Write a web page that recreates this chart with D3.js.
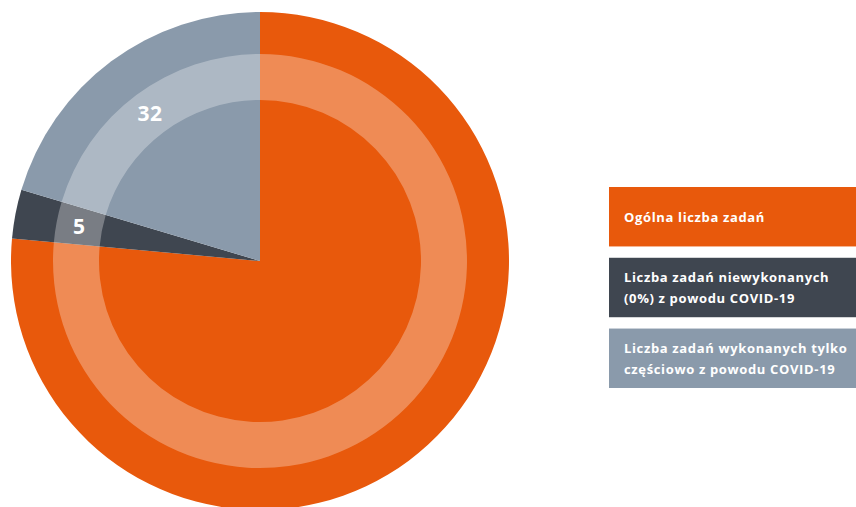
<!DOCTYPE html>
<html>
<head>
<meta charset="utf-8">
<script src="https://cdn.jsdelivr.net/npm/d3@7"></script>
<style>
  body { margin: 0; background: #fff; }
  svg { display: block; font-family: "Open Sans", sans-serif; }
</style>
</head>
<body>
<svg id="chart" width="856" height="507"></svg>
<script>
// data
const categories = [
  "Ogólna liczba zadań",
  "Liczba zadań niewykonanych (0%) z powodu COVID-19",
  "Liczba zadań wykonanych tylko częściowo z powodu COVID-19"
];
const legendLines = [
  ["Ogólna liczba zadań"],
  ["Liczba zadań niewykonanych", "(0%) z powodu COVID-19"],
  ["Liczba zadań wykonanych tylko", "częściowo z powodu COVID-19"]
];
const values = [120, 5, 32];
const showLabel = [false, true, true];
const colors = ["#e8590c", "#3f4650", "#8a9aab"];

const svg = d3.select("#chart");
const cx = 260, cy = 261;
const outerR = 249, bandOuter = 207, bandInner = 161;

const color = d3.scaleOrdinal().domain(categories).range(colors);

const pie = d3.pie().sort(null).value(d => d.value);
const arcs = pie(categories.map((c, i) => ({ key: c, value: values[i], label: showLabel[i] })));

const g = svg.append("g").attr("transform", "translate(" + cx + "," + cy + ")");

const full = d3.arc().innerRadius(0).outerRadius(outerR);
const band = d3.arc().innerRadius(bandInner).outerRadius(bandOuter);

g.selectAll("path.slice")
  .data(arcs)
  .enter().append("path")
    .attr("class", "slice")
    .attr("fill", d => color(d.data.key))
    .attr("d", full);

// lighter ring drawn as a white wash over each slice
g.selectAll("path.band")
  .data(arcs)
  .enter().append("path")
    .attr("class", "band")
    .attr("fill", "#fff")
    .attr("fill-opacity", 0.3)
    .attr("d", band);

g.selectAll("text.val")
  .data(arcs.filter(d => d.data.label))
  .enter().append("text")
    .attr("class", "val")
    .attr("transform", d => "translate(" + band.centroid(d) + ")")
    .attr("text-anchor", "middle")
    .attr("dy", "0.36em")
    .attr("fill", "#fff")
    .attr("font-size", 21)
    .attr("font-weight", 700)
    .attr("letter-spacing", 0.5)
    .text(d => d.data.value);

// legend
const legendY = d3.scaleBand()
  .domain(categories)
  .range([187, 388])
  .paddingInner(0.16);

const item = svg.append("g")
  .selectAll("g")
  .data(categories)
  .enter().append("g")
    .attr("transform", d => "translate(609," + legendY(d) + ")");

item.append("rect")
  .attr("width", 856 - 609)
  .attr("height", legendY.bandwidth())
  .attr("fill", d => color(d));

item.append("text")
  .attr("x", 15)
  .attr("fill", "#fff")
  .attr("font-size", 13)
  .attr("font-weight", 700)
  .attr("letter-spacing", 0.65)
  .selectAll("tspan")
  .data((d, i) => legendLines[i].map((t, j, a) => ({ t, j, n: a.length })))
  .enter().append("tspan")
    .attr("x", 15)
    .attr("y", d => legendY.bandwidth() / 2 + 5 + (d.j - (d.n - 1) / 2) * 21)
    .text(d => d.t);
</script>
</body>
</html>
